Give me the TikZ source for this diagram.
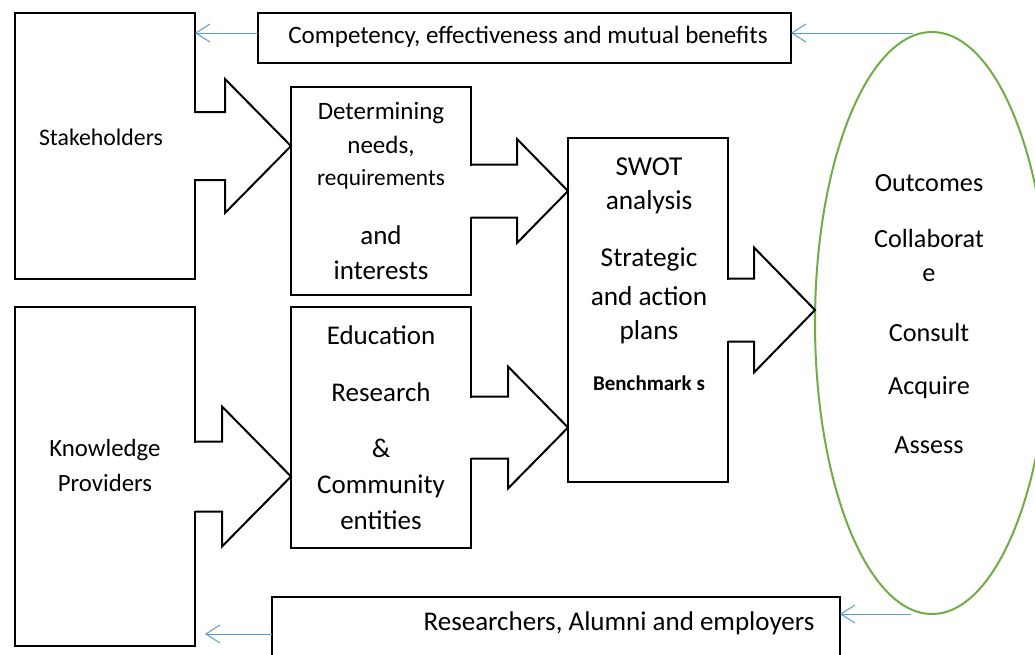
\documentclass[tikz,border=0pt]{standalone}
\usepackage{fontspec}
\setmainfont{Carlito}
\usetikzlibrary{calc,shapes.geometric,arrows.meta}

\definecolor{linkblue}{RGB}{91,155,213}
\definecolor{ovalgreen}{RGB}{112,173,71}

% Block arrow leaving a box border: #1 start point on the border (arrow axis),
% #2 tip, #3 half height of the shaft, #4 half height of the head, #5 head length
\newcommand{\blockarrow}[5]{%
  \fill[white] ($(#1)+(-1.5,-#3+1)$) rectangle ($(#1)+(1.5,#3-1)$);
  \draw[blockline] ($(#1)+(0,-#3)$) -- ($(#2)+(-#5,-#3)$) -- ($(#2)+(-#5,-#4)$)
    -- (#2) -- ($(#2)+(-#5,#4)$) -- ($(#2)+(-#5,#3)$) -- ($(#1)+(0,#3)$);
}

\begin{document}
\begin{tikzpicture}[x=1pt,y=-1pt,
  box/.style={draw, line width=2pt, outer sep=0pt, inner sep=0pt},
  thinbox/.style={draw, line width=1.1pt, outer sep=0pt, inner sep=0pt},
  blockline/.style={line width=2pt, line join=miter},
  feedback/.style={draw=linkblue, line width=1pt, -{Straight Barb[length=14pt,width=18pt]}},
  fs/.style={inner sep=0pt, font=\fontsize{#1}{#1}\selectfont},
  fsb/.style={inner sep=0pt, font=\fontsize{#1}{#1}\selectfont\bfseries},
]
\clip (0,0) rectangle (1035,654);
\fill[white] (0,0) rectangle (1035,654);

% boxes
\node[box, minimum width=180pt, minimum height=266pt] (sh) at (105,146) {};
\node[box, minimum width=180pt, minimum height=339pt] (kp) at (105,476.5) {};
\node[box, minimum width=180pt, minimum height=208pt] (det) at (381,191) {};
\node[box, minimum width=180pt, minimum height=241pt] (edu) at (381,427.5) {};
\node[box, minimum width=160pt, minimum height=344pt] (swot) at (648,310) {};
\node[thinbox, minimum width=533pt, minimum height=50pt] (comp) at (524.5,38) {};
\node[thinbox, minimum width=568pt, minimum height=90pt] (res) at (556,642) {};
\node[draw=ovalgreen, line width=2pt, ellipse, inner sep=0pt, outer sep=0pt,
      minimum width=234pt, minimum height=582pt] (ell) at (932,323) {};

% block arrows between the boxes
\blockarrow{sh.east}{sh.east -| det.west}{34}{67}{66}
\blockarrow{det.east}{det.east -| swot.west}{26.5}{52}{51}
\blockarrow{kp.east}{kp.east -| edu.west}{35}{70}{69}
\blockarrow{edu.east}{edu.east -| swot.west}{31}{61}{60}
\blockarrow{swot.east}{swot.east -| ell.west}{31.5}{62.5}{61}

% feedback arrows
\coordinate (fb1) at ([yshift=5pt]comp.west);
\draw[feedback] (fb1) -- (fb1 -| sh.east);
\coordinate (fb2) at ([xshift=-19pt,yshift=-1pt]ell.north);
\draw[feedback] (fb2) -- (fb2 -| comp.east);
\coordinate (fb3) at ([xshift=-21pt]ell.south);
\draw[feedback] (fb3) -- (fb3 -| res.east);
\coordinate (fb4) at (res.west |- 0,634);
\draw[feedback] (fb4) -- ([xshift=10pt]fb4 -| kp.east);

% texts
\node[fs=25] (t-comp) at (528,37) {Competency, effectiveness and mutual benefits};
\node[fs=23.8] (t-sh) at (101,137) {Stakeholders};
\node[fs=24.8] (t-kp1) at (105,450) {Knowledge};
\node[fs=24.8] (t-kp2) at (105,483) {Providers};

\node[fs=25] (t-det1) at (381,113) {Determining};
\node[fs=25] (t-det2) at (381,146) {needs,};
\node[fs=23.3] (t-det3) at (381,179) {requirements};
\node[fs=27] (t-det4) at (381,235) {and};
\node[fs=27] (t-det5) at (381,270) {interests};

\node[fs=27] (t-edu1) at (381,335) {Education};
\node[fs=27] (t-edu2) at (381,392) {Research};
\node[fs=27] (t-edu3) at (381,448) {\&};
\node[fs=27] (t-edu4) at (381,486) {Community};
\node[fs=27] (t-edu5) at (381,520) {entities};

\node[fs=27.3] (t-sw1) at (649,167) {SWOT};
\node[fs=27.3] (t-sw2) at (649,202) {analysis};
\node[fs=27.3] (t-sw3) at (649,259) {Strategic};
\node[fs=27.3] (t-sw4) at (649,296) {and action};
\node[fs=27.3] (t-sw5) at (649,332) {plans};
\node[fsb=21] (t-sw6) at (649,383) {Benchmark s};

\node[fs=26.2] (t-o1) at (929,183) {Outcomes};
\node[fs=26.2] (t-o2) at (929,238) {Collaborat};
\node[fs=26.2] (t-o3) at (929,275) {e};
\node[fs=26.2] (t-o4) at (929,332) {Consult};
\node[fs=26.2] (t-o5) at (929,388) {Acquire};
\node[fs=26.2] (t-o6) at (929,445) {Assess};

\node[fs=27] (t-res) at (619,623) {Researchers, Alumni and employers};
\end{tikzpicture}
\end{document}
